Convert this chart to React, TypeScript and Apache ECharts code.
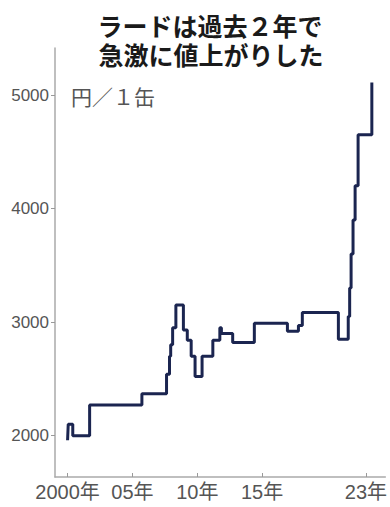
import React, { useEffect, useRef } from "react";
import * as echarts from "echarts";

const titleLines = ["ラードは過去２年で", "急激に値上がりした"];
const unitLabel = "円／１缶";

const years = [
  2000.0, 2000.05, 2000.4, 2001.7, 2005.73, 2007.63, 2007.86, 2007.95, 2008.1,
  2008.35, 2008.93, 2009.23, 2009.53, 2009.83, 2010.37, 2011.2, 2011.74,
  2011.86, 2012.73, 2014.4, 2016.95, 2017.8, 2018.1, 2020.88, 2021.64, 2021.75,
  2021.86, 2022.01, 2022.17, 2022.4, 2023.46,
];
const prices = [
  1960, 2100, 2000, 2270, 2370, 2540, 2700, 2800, 2950, 3150, 2930, 2840,
  2700, 2520, 2700, 2840, 2950, 2900, 2820, 2990, 2920, 2970, 3085, 2850,
  3050, 3300, 3600, 3900, 4200, 4650, 5110,
];

const yTicks = [2000, 3000, 4000, 5000];
const xTicks = [2000, 2005, 2010, 2015, 2023];
const xTickLabels = ["2000年", "05年", "10年", "15年", "23年"];

const FONT = "'Liberation Sans', 'Noto Sans CJK JP', sans-serif";
const CJK = "'Noto Sans CJK JP', sans-serif";

export default function App() {
  const ref = useRef<HTMLDivElement>(null);
  useEffect(() => {
    if (!ref.current) return;
    const chart = echarts.init(ref.current, undefined, { renderer: "svg" });
    const data = years.map((y, i) => [y, prices[i]]);
    chart.setOption({
      animation: false,
      backgroundColor: "#ffffff",
      grid: { left: 55, right: 0, top: 48, bottom: 30 },
      xAxis: {
        type: "value",
        min: 1999.03,
        max: 2024.5,
        splitLine: { show: false },
        axisLine: { show: true, lineStyle: { color: "#aaaaaa", width: 1.5 } },
        axisTick: {
          show: true,
          inside: true,
          length: 4,
          customValues: xTicks,
          lineStyle: { color: "#999999", width: 1 },
        },
        axisLabel: {
          customValues: xTicks,
          margin: 5,
          color: "#555555",
          fontSize: 20,
          fontFamily: FONT,
          formatter: (v: number) => {
            const i = xTicks.indexOf(Math.round(v));
            return i >= 0 ? xTickLabels[i] : "";
          },
        },
      },
      yAxis: {
        type: "value",
        min: 1636,
        max: 5414,
        splitLine: { show: false },
        axisLine: { show: true, lineStyle: { color: "#aaaaaa", width: 1.5 } },
        axisTick: {
          show: true,
          length: 4,
          customValues: yTicks,
          lineStyle: { color: "#999999", width: 1 },
        },
        axisLabel: {
          customValues: yTicks,
          margin: 6,
          color: "#555555",
          fontSize: 17,
          fontFamily: FONT,
          formatter: (v: number) => String(Math.round(v)),
        },
      },
      graphic: [
        {
          type: "text",
          x: 210,
          y: 25,
          style: {
            text: titleLines[0],
            textAlign: "center",
            textVerticalAlign: "middle",
            font: `bold 25px ${CJK}`,
            fill: "#1a1a1a",
          },
        },
        {
          type: "text",
          x: 211,
          y: 54,
          style: {
            text: titleLines[1],
            textAlign: "center",
            textVerticalAlign: "middle",
            font: `bold 25px ${CJK}`,
            fill: "#1a1a1a",
          },
        },
        {
          type: "text",
          x: 71,
          y: 96,
          style: {
            text: unitLabel,
            textAlign: "left",
            textVerticalAlign: "middle",
            font: `21px ${CJK}`,
            fill: "#555555",
          },
        },
      ],
      series: [
        {
          type: "line",
          step: "end",
          data,
          showSymbol: false,
          lineStyle: { color: "#1b2550", width: 3 },
        },
      ],
    });
    return () => chart.dispose();
  }, []);
  return (
    <div
      ref={ref}
      style={{ position: "fixed", left: 0, top: 0, width: 390, height: 507 }}
    />
  );
}
